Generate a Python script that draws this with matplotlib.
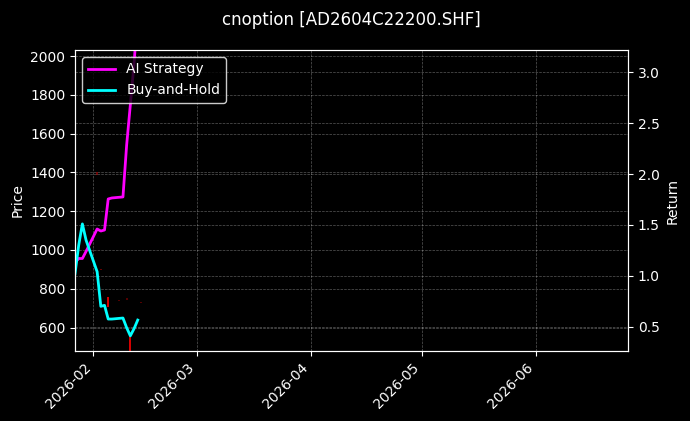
import numpy as np
import pandas as pd
import matplotlib
matplotlib.use('Agg')
import matplotlib.pyplot as plt
import matplotlib.dates as mdates

# daily returns
dates = pd.to_datetime(['2026-01-27', '2026-01-28', '2026-01-29', '2026-01-30', '2026-02-02',
                        '2026-02-03', '2026-02-04', '2026-02-05', '2026-02-06', '2026-02-09',
                        '2026-02-10', '2026-02-11', '2026-02-12', '2026-02-13'])
ai_strategy = [1.13, 1.17, 1.17, 1.24, 1.46, 1.44, 1.45, 1.755, 1.765, 1.775, 2.285, 2.68, 3.08, 3.6]
buy_hold = [1.02, 1.30, 1.51, 1.35, 1.04, 0.70, 0.71, 0.575, 0.575, 0.585, 0.49, 0.41, 0.48, 0.565]

# price candles (mostly hidden under the lines, only wicks visible)
candle_dates = pd.to_datetime(['2026-02-02', '2026-02-03', '2026-02-05', '2026-02-08', '2026-02-09',
                               '2026-02-10', '2026-02-11', '2026-02-12', '2026-02-14'])
candle_low = [1388, 896, 706, 736, 636, 742, 480, 586, 726]
candle_high = [1400, 904, 758, 744, 644, 750, 558, 594, 734]
candle_alpha = [0.5, 0.5, 1.0, 0.4, 0.4, 0.4, 1.0, 0.6, 0.4]

plt.style.use('dark_background')
fig = plt.figure(figsize=(6.9, 4.21), dpi=100)
ax1 = fig.add_axes([75 / 690, 1 - 351 / 421, 553 / 690, 301 / 421])
ax2 = ax1.twinx()

for d, lo, hi, a in zip(candle_dates, candle_low, candle_high, candle_alpha):
    ax1.vlines(d, lo, hi, color='red', linewidth=1.2, alpha=a)

ax2.plot(dates, ai_strategy, color='#ff00ff', linewidth=2, label='AI Strategy')
ax2.plot(dates, buy_hold, color='#00ffff', linewidth=2, label='Buy-and-Hold')

start = pd.Timestamp('2026-01-27')
ax1.set_xlim(start, start + pd.Timedelta(days=149.9))
ax1.set_ylim(479, 2031)
ax2.set_ylim(0.261, 3.219)

ax1.xaxis.set_major_locator(mdates.MonthLocator())
ax1.xaxis.set_major_formatter(mdates.DateFormatter('%Y-%m'))
plt.setp(ax1.get_xticklabels(), rotation=45, ha='right')

ax1.set_ylabel('Price')
ax2.set_ylabel('Return')
ax1.grid(True, linestyle='--', linewidth=0.5, alpha=0.35)
ax2.grid(True, linestyle='--', linewidth=0.5, alpha=0.35)
ax1.set_title('cnoption [AD2604C22200.SHF]', fontsize=12, pad=18)

ax2.legend(loc='upper left', facecolor='black', edgecolor='white', framealpha=0.8)

fig.savefig('out.png', dpi=100)
